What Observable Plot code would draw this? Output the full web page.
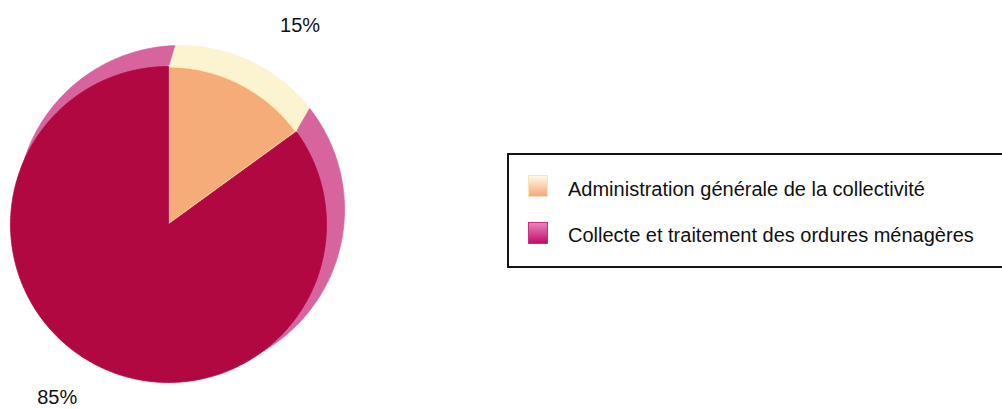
<!DOCTYPE html>
<html>
<head>
<meta charset="utf-8">
<script src="https://cdn.jsdelivr.net/npm/d3@7"></script>
<script src="https://cdn.jsdelivr.net/npm/@observablehq/plot@0.6"></script>
<style>
  html, body { margin: 0; padding: 0; background: #fff; }
  #wrap { position: relative; width: 1002px; height: 409px; overflow: hidden; font-family: "Liberation Sans", Arial, sans-serif; }
  #legend { position: absolute; left: 507px; top: 153px; width: 520px; height: 115px; border: 2px solid #151515; box-sizing: border-box; }
  .sw { position: absolute; left: 19px; width: 20px; height: 22px; box-sizing: border-box; }
  .lab { position: absolute; left: 59px; font-size: 20px; color: #111; white-space: nowrap; line-height: 1; }
</style>
</head>
<body>
<div id="wrap"></div>
<script>
// ---- data ----
const categories = ["Administration générale de la collectivité", "Collecte et traitement des ordures ménagères"];
const shares = [15, 85];
const shareLabels = ["15%", "85%"];
const frontColors = ["#F5AC78", "#B10842"];
const backColors = ["#FCF3D0", "#D8649E"];
const swatchGradients = [
  "linear-gradient(#FFF8E8, #F6A878)",
  "linear-gradient(#E586BC, #C40C6C)"
];

// ---- layout (pixel geometry expressed in scale units) ----
const W = 1002, H = 409;
const CX = 168, CY = 224, R = 158;           // front pie centre / radius in px
const xDomain = [-CX / R, (W - CX) / R];
const yDomain = [-(H - CY) / R, CY / R];
const front = {cx: 0, cy: 0, r: 1};
const back = {cx: 12 / R, cy: 15 / R, r: 164 / R, rot: -2 * Math.PI / 180};

const arcs = d3.pie().sort(null)(shares);

function arcPts(a0, a1, g, rot) {
  const pts = [];
  const n = Math.max(2, Math.ceil((a1 - a0) / (Math.PI / 360)));
  for (let k = 0; k <= n; k++) {
    const a = a0 + (a1 - a0) * k / n + rot;
    pts.push({x: g.cx + g.r * Math.sin(a), y: g.cy + g.r * Math.cos(a)});
  }
  return pts;
}
function frontSlice(arc) {
  const c = {x: front.cx, y: front.cy};
  return [c, ...arcPts(arc.startAngle, arc.endAngle, front, 0), c];
}
// extruded (back) slice: front centre -> front start -> back arc -> front end -> front centre
function backSlice(arc) {
  const c = {x: front.cx, y: front.cy};
  const fs = arcPts(arc.startAngle, arc.startAngle, front, 0)[0];
  const fe = arcPts(arc.endAngle, arc.endAngle, front, 0)[0];
  return [c, fs, ...arcPts(arc.startAngle, arc.endAngle, back, back.rot), fe, c];
}

const marks = [];
arcs.forEach((arc, i) => {
  marks.push(Plot.line(backSlice(arc), {x: "x", y: "y", fill: backColors[i], stroke: backColors[i], strokeWidth: 0.8}));
});
arcs.forEach((arc, i) => {
  marks.push(Plot.line(frontSlice(arc), {
    x: "x", y: "y", fill: frontColors[i],
    stroke: i === 0 ? "#FFF1C4" : frontColors[i], strokeWidth: i === 0 ? 2 : 0.8, strokeLinejoin: "round"
  }));
});

// percentage labels placed from the slice mid-angles
const labelData = arcs.map((arc, i) => ({mid: (arc.startAngle + arc.endAngle) / 2, text: shareLabels[i]}));
const labelR = [1.5, 1.3];
const labelOff = [[24, 12], [-18, -10]];
labelData.forEach((d, i) => {
  marks.push(Plot.text([d], {
    x: e => labelR[i] * Math.sin(e.mid),
    y: e => labelR[i] * Math.cos(e.mid),
    text: "text", dx: labelOff[i][0], dy: labelOff[i][1],
    fontSize: 20, fill: "#111", fontFamily: "Liberation Sans, Arial, sans-serif"
  }));
});

const chart = Plot.plot({
  width: W, height: H, margin: 0,
  x: {domain: xDomain, axis: null},
  y: {domain: yDomain, axis: null},
  style: {background: "transparent"},
  marks
});
const wrap = document.getElementById("wrap");
wrap.appendChild(chart);

// legend
const legend = document.createElement("div");
legend.id = "legend";
const swTops = [20, 67];
const labTops = [24, 70];
categories.forEach((c, i) => {
  const sw = document.createElement("div");
  sw.className = "sw";
  sw.style.top = swTops[i] + "px";
  sw.style.background = swatchGradients[i];
  sw.style.border = i === 0 ? "1px solid #F8E4B8" : "1px solid #C8307E";
  legend.appendChild(sw);
  const lab = document.createElement("div");
  lab.className = "lab";
  lab.style.top = labTops[i] + "px";
  lab.textContent = c;
  legend.appendChild(lab);
});
wrap.appendChild(legend);
</script>
</body>
</html>
